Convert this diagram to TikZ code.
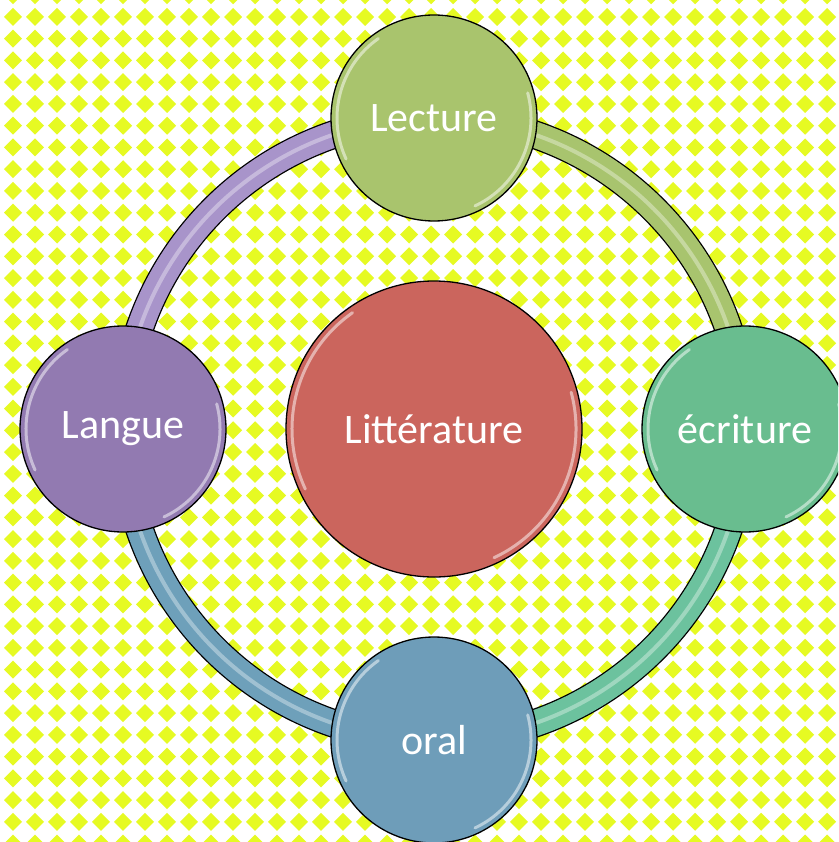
\documentclass[tikz,border=0pt]{standalone}
\usepackage{fontspec}
\setmainfont{Carlito}
\usepackage{tikz}
\definecolor{dots}{RGB}{230,250,35}
\definecolor{litred}{RGB}{203,101,93}
\definecolor{lecgreen}{RGB}{169,196,109}
\definecolor{ecrgreen}{RGB}{105,189,143}
\definecolor{langpurple}{RGB}{146,122,177}
\definecolor{oralblue}{RGB}{110,157,185}
\definecolor{ringpurple}{RGB}{168,148,202}
\definecolor{ringgreen}{RGB}{168,196,110}
\definecolor{ringteal}{RGB}{108,194,158}
\definecolor{ringblue}{RGB}{110,160,186}
\tikzstyle{bubble}=[circle,draw=black,line width=1.3pt,inner sep=0pt,outer sep=0pt,text=white,font=\fontsize{42}{46}\selectfont]
\tikzstyle{big}=[bubble,minimum size=296pt]
\tikzstyle{small}=[bubble,minimum size=206pt]
\tikzstyle{bandline}=[black,line width=28.6pt]
\tikzstyle{bandfill}=[line width=26pt]
\tikzstyle{shine}=[white,line width=4pt,opacity=.35]
\tikzstyle{gloss}=[white,line width=3pt,opacity=.5,line cap=round]
\usetikzlibrary{positioning}
\pgfdeclarelayer{pattern}
\pgfdeclarelayer{ring}
\pgfsetlayers{pattern,ring,main}

\begin{document}
\begin{tikzpicture}[x=1pt,y=1pt,node distance=60pt]
    \clip (0,0) rectangle (838,-842);
    \begin{pgfonlayer}{pattern}
    \fill[white] (0,0) rectangle (838,-842);
    \foreach \x in {-9,13,...,860}
      \foreach \y in {-4.75,17,...,860}
        \fill[dots] (\x,-\y) +(-9,0) -- +(0,9) -- +(9,0) -- +(0,-9) -- cycle;
    \end{pgfonlayer}
    % circles
    \node (lit) [big,fill=litred] at (434,-429) {Littérature};
    \node (lect) [small,fill=lecgreen,above=of lit] {Lecture};
    \node (lang) [small,fill=langpurple,left=of lit] {Langue};
    \node (ecr) [small,fill=ecrgreen,right=of lit] {écriture};
    \node (oral) [small,fill=oralblue,below=of lit] {oral};
    % glossy rims
    \foreach \n/\r in {lit/142,lect/97,lang/97,ecr/97,oral/97}{
      \draw[gloss] (\n.center) ++(125:\r) arc[start angle=125,end angle=205,radius=\r];
      \draw[gloss] (\n.center) ++(-65:\r) arc[start angle=-65,end angle=15,radius=\r];
    }
    % ring
    \begin{pgfonlayer}{ring}
    \foreach \a/\b/\c in {lect/90/ringpurple,lang/180/ringblue,oral/270/ringteal,ecr/0/ringgreen}{
      \draw[bandline] (\a.center) arc[start angle=\b,delta angle=90,radius=311];
      \draw[bandfill,\c] (\a.center) arc[start angle=\b,delta angle=90,radius=311];
      \draw[shine] (\a.center) arc[start angle=\b,delta angle=90,radius=311];
    }
    \end{pgfonlayer}
\end{tikzpicture}
\end{document}
